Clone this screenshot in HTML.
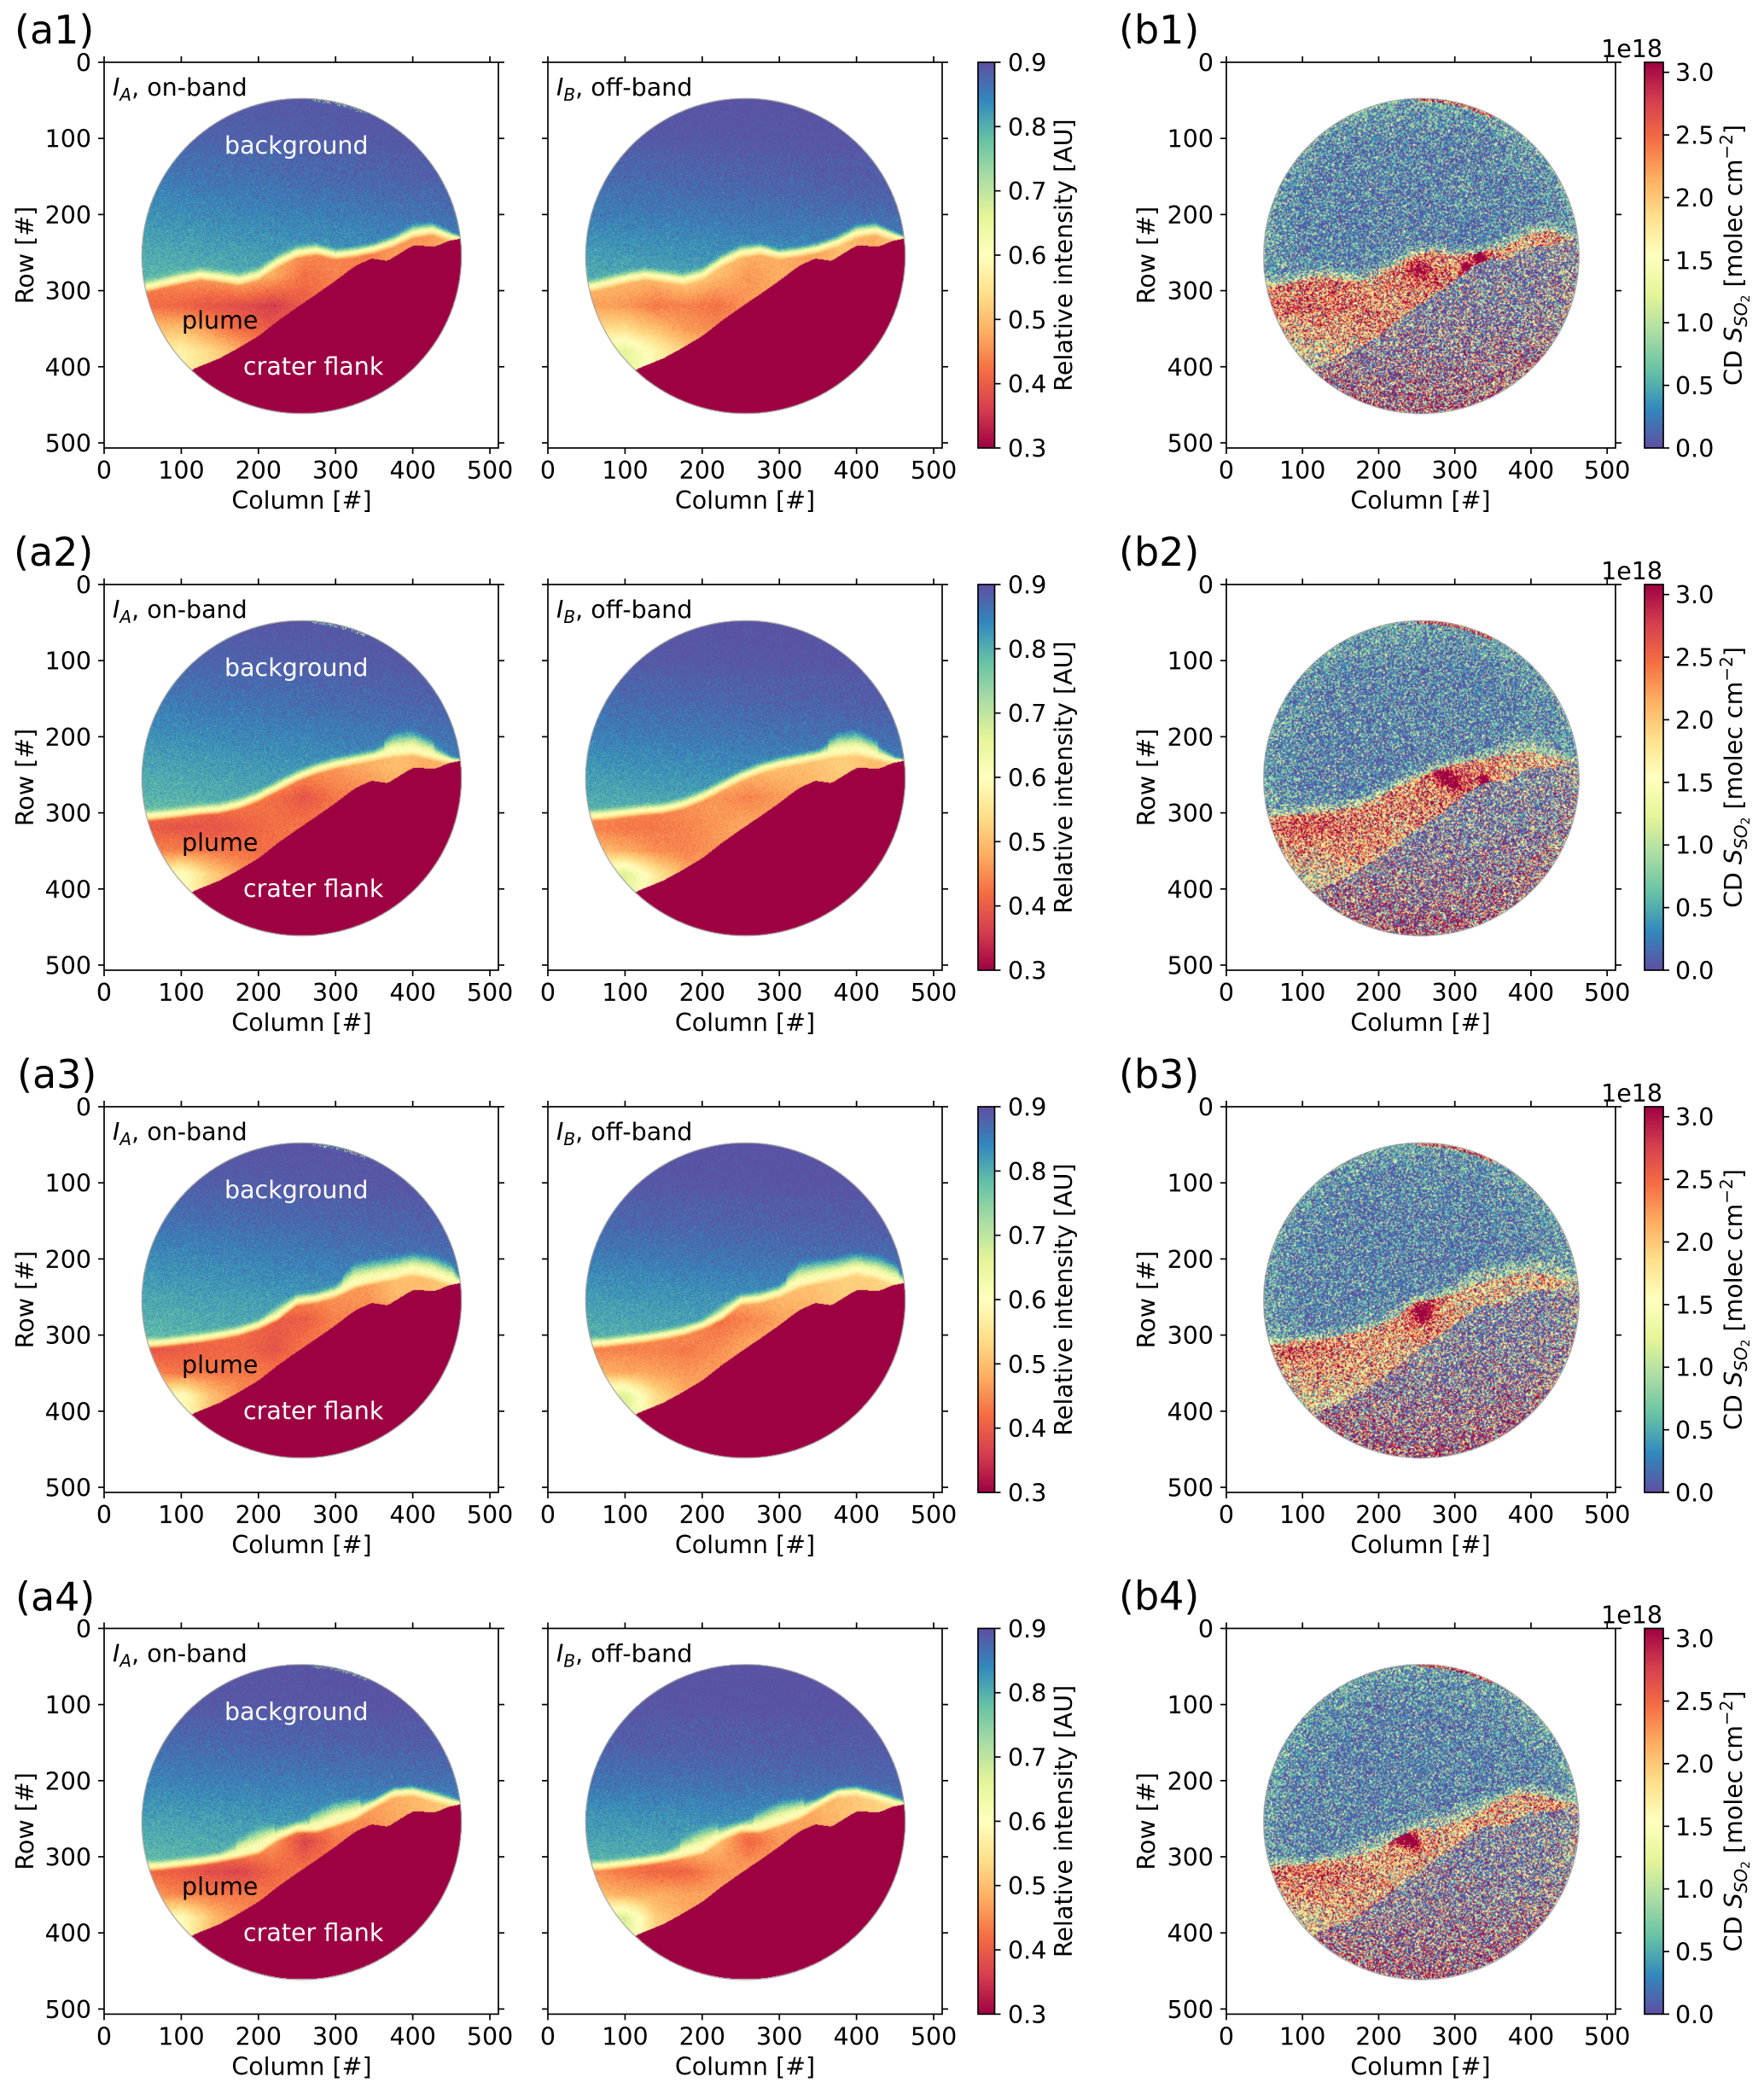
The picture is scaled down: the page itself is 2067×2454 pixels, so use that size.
<!DOCTYPE html>
<html lang="en">
<head>
<meta charset="utf-8">
<title>On-band, off-band intensity and SO2 column density images</title>
<style>
html,body{margin:0;padding:0;background:#fff}
#figure{position:relative;width:2067px;height:2454px;overflow:hidden;background:#fff;font-family:"DejaVu Sans","Liberation Sans",sans-serif}
#figure canvas{position:absolute;display:block}
#overlay{position:absolute;left:0;top:0}
#overlay text{font-family:"DejaVu Sans","Liberation Sans",sans-serif;fill:#000}
</style>
</head>
<body>
<div id="figure">
<svg id="overlay" width="2067" height="2454" viewBox="0 0 2067 2454" xmlns="http://www.w3.org/2000/svg">
<defs>
<linearGradient id="gradOn" x1="0" y1="1" x2="0" y2="0"></linearGradient>
<linearGradient id="gradCd" x1="0" y1="0" x2="0" y2="1"></linearGradient>
</defs>
<g id="marks"></g>

<g transform="translate(0,0)">
<text x="17" y="51" font-size="46">(a1)</text>
<text x="1311" y="51" font-size="46">(b1)</text>
<text x="132" y="112" font-size="28.5"><tspan font-style="italic">I</tspan><tspan font-style="italic" font-size="20" dy="6">A</tspan><tspan dy="-6">, on-band</tspan></text>
<text x="652" y="112" font-size="28.5"><tspan font-style="italic">I</tspan><tspan font-style="italic" font-size="20" dy="6">B</tspan><tspan dy="-6">, off-band</tspan></text>
<text x="263" y="180" font-size="28.5" style="fill:#fff">background</text>
<text x="213" y="385" font-size="28.5">plume</text>
<text x="285" y="439" font-size="28.5" style="fill:#fff">crater flank</text>
<text x="353.5" y="596" font-size="28.5" text-anchor="middle">Column [#]</text>
<text x="873" y="596" font-size="28.5" text-anchor="middle">Column [#]</text>
<text x="1664.5" y="596" font-size="28.5" text-anchor="middle">Column [#]</text>
<text transform="translate(39,299) rotate(-90)" font-size="28.5" text-anchor="middle">Row [#]</text>
<text transform="translate(1353,299) rotate(-90)" font-size="28.5" text-anchor="middle">Row [#]</text>
<text transform="translate(1256,299) rotate(-90)" font-size="28.5" text-anchor="middle">Relative intensity [AU]</text>
<text transform="translate(2041,299) rotate(-90)" font-size="28.5" text-anchor="middle">CD <tspan font-style="italic">S</tspan><tspan font-style="italic" font-size="20" dy="6">SO</tspan><tspan font-size="14" dy="3">2</tspan><tspan dy="-9"> [molec cm</tspan><tspan font-size="20" dy="-11">−2</tspan><tspan dy="11">]</tspan></text>
<text x="1948" y="67" font-size="28.5" text-anchor="end">1e18</text>
</g>

<g transform="translate(0,612)">
<text x="16" y="51" font-size="46">(a2)</text>
<text x="1311" y="51" font-size="46">(b2)</text>
<text x="132" y="112" font-size="28.5"><tspan font-style="italic">I</tspan><tspan font-style="italic" font-size="20" dy="6">A</tspan><tspan dy="-6">, on-band</tspan></text>
<text x="652" y="112" font-size="28.5"><tspan font-style="italic">I</tspan><tspan font-style="italic" font-size="20" dy="6">B</tspan><tspan dy="-6">, off-band</tspan></text>
<text x="263" y="180" font-size="28.5" style="fill:#fff">background</text>
<text x="213" y="385" font-size="28.5">plume</text>
<text x="285" y="439" font-size="28.5" style="fill:#fff">crater flank</text>
<text x="353.5" y="596" font-size="28.5" text-anchor="middle">Column [#]</text>
<text x="873" y="596" font-size="28.5" text-anchor="middle">Column [#]</text>
<text x="1664.5" y="596" font-size="28.5" text-anchor="middle">Column [#]</text>
<text transform="translate(39,299) rotate(-90)" font-size="28.5" text-anchor="middle">Row [#]</text>
<text transform="translate(1353,299) rotate(-90)" font-size="28.5" text-anchor="middle">Row [#]</text>
<text transform="translate(1256,299) rotate(-90)" font-size="28.5" text-anchor="middle">Relative intensity [AU]</text>
<text transform="translate(2041,299) rotate(-90)" font-size="28.5" text-anchor="middle">CD <tspan font-style="italic">S</tspan><tspan font-style="italic" font-size="20" dy="6">SO</tspan><tspan font-size="14" dy="3">2</tspan><tspan dy="-9"> [molec cm</tspan><tspan font-size="20" dy="-11">−2</tspan><tspan dy="11">]</tspan></text>
<text x="1948" y="67" font-size="28.5" text-anchor="end">1e18</text>
</g>

<g transform="translate(0,1224)">
<text x="20" y="51" font-size="46">(a3)</text>
<text x="1311" y="51" font-size="46">(b3)</text>
<text x="132" y="112" font-size="28.5"><tspan font-style="italic">I</tspan><tspan font-style="italic" font-size="20" dy="6">A</tspan><tspan dy="-6">, on-band</tspan></text>
<text x="652" y="112" font-size="28.5"><tspan font-style="italic">I</tspan><tspan font-style="italic" font-size="20" dy="6">B</tspan><tspan dy="-6">, off-band</tspan></text>
<text x="263" y="180" font-size="28.5" style="fill:#fff">background</text>
<text x="213" y="385" font-size="28.5">plume</text>
<text x="285" y="439" font-size="28.5" style="fill:#fff">crater flank</text>
<text x="353.5" y="596" font-size="28.5" text-anchor="middle">Column [#]</text>
<text x="873" y="596" font-size="28.5" text-anchor="middle">Column [#]</text>
<text x="1664.5" y="596" font-size="28.5" text-anchor="middle">Column [#]</text>
<text transform="translate(39,299) rotate(-90)" font-size="28.5" text-anchor="middle">Row [#]</text>
<text transform="translate(1353,299) rotate(-90)" font-size="28.5" text-anchor="middle">Row [#]</text>
<text transform="translate(1256,299) rotate(-90)" font-size="28.5" text-anchor="middle">Relative intensity [AU]</text>
<text transform="translate(2041,299) rotate(-90)" font-size="28.5" text-anchor="middle">CD <tspan font-style="italic">S</tspan><tspan font-style="italic" font-size="20" dy="6">SO</tspan><tspan font-size="14" dy="3">2</tspan><tspan dy="-9"> [molec cm</tspan><tspan font-size="20" dy="-11">−2</tspan><tspan dy="11">]</tspan></text>
<text x="1948" y="67" font-size="28.5" text-anchor="end">1e18</text>
</g>

<g transform="translate(0,1835.4)">
<text x="18" y="52" font-size="46">(a4)</text>
<text x="1311" y="51" font-size="46">(b4)</text>
<text x="132" y="112" font-size="28.5"><tspan font-style="italic">I</tspan><tspan font-style="italic" font-size="20" dy="6">A</tspan><tspan dy="-6">, on-band</tspan></text>
<text x="652" y="112" font-size="28.5"><tspan font-style="italic">I</tspan><tspan font-style="italic" font-size="20" dy="6">B</tspan><tspan dy="-6">, off-band</tspan></text>
<text x="263" y="180" font-size="28.5" style="fill:#fff">background</text>
<text x="213" y="385" font-size="28.5">plume</text>
<text x="285" y="439" font-size="28.5" style="fill:#fff">crater flank</text>
<text x="353.5" y="596" font-size="28.5" text-anchor="middle">Column [#]</text>
<text x="873" y="596" font-size="28.5" text-anchor="middle">Column [#]</text>
<text x="1664.5" y="596" font-size="28.5" text-anchor="middle">Column [#]</text>
<text transform="translate(39,299) rotate(-90)" font-size="28.5" text-anchor="middle">Row [#]</text>
<text transform="translate(1353,299) rotate(-90)" font-size="28.5" text-anchor="middle">Row [#]</text>
<text transform="translate(1256,299) rotate(-90)" font-size="28.5" text-anchor="middle">Relative intensity [AU]</text>
<text transform="translate(2041,299) rotate(-90)" font-size="28.5" text-anchor="middle">CD <tspan font-style="italic">S</tspan><tspan font-style="italic" font-size="20" dy="6">SO</tspan><tspan font-size="14" dy="3">2</tspan><tspan dy="-9"> [molec cm</tspan><tspan font-size="20" dy="-11">−2</tspan><tspan dy="11">]</tspan></text>
<text x="1948" y="67" font-size="28.5" text-anchor="end">1e18</text>
</g>
</svg>
</div>

<script>
// ---- axis tick values ----
const xTickValues = [0, 100, 200, 300, 400, 500];
const yTickValues = [0, 100, 200, 300, 400, 500];
const intensityTicks = [0.3, 0.4, 0.5, 0.6, 0.7, 0.8, 0.9];
const columnDensityTicks = [0.0, 0.5, 1.0, 1.5, 2.0, 2.5, 3.0];

// ---- colour map (Spectral) ----
const spectralStops = ['#9e0142','#d53e4f','#f46d43','#fdae61','#fee08b','#ffffbf','#e6f598','#abdda4','#66c2a5','#3288bd','#5e4fa2'];

// ---- image structure (column → row) ----
const profileColumns = [50,75,100,125,150,175,200,225,250,275,300,325,350,375,400,425,450,465];
const ridgeRow1 = [298,292,286,281,284,288,281,264,252,248,254,251,246,238,226,222,230,233];
const ridgeRow2 = [306,304,301,298,296,290,280,267,254,244,237,232,227,222,220,226,232,233];
const ridgeRow3 = [313,311,308,305,301,296,288,276,256,253,246,234,228,223,217,222,231,233];
const ridgeRow4 = [315,313,310,307,303,298,292,275,264,264,256,247,232,218,216,223,230,232];
const haloRow1 = [18,18,18,18,18,18,18,18,18,16,14,14,14,16,20,18,12,6];
const haloRow2 = [16,16,16,16,16,16,16,16,16,16,16,16,16,32,34,26,10,6];
const haloRow3 = [16,14,14,14,14,14,14,24,16,16,18,34,32,30,30,32,30,12];
const haloRow4 = [16,14,14,14,14,26,36,22,16,28,34,28,14,14,14,16,14,8];
const flankColumns = [100,116,150,175,200,225,250,275,300,325,346,368,385,400,430,446,465];
const flankEdgeRows = [415,403,389,375,360,340,322,305,287,268,258,261,250,241,242,235,231];

// ---- sky brightness at the left / right of the aperture, by row ----
const skySampleRows = [50,100,150,200,250,300];
const skyLeftOn1  = [0.885,0.875,0.855,0.83,0.805,0.785];
const skyRightOn1 = [0.895,0.893,0.885,0.865,0.84,0.82];
const skyLeftOff1  = [0.895,0.888,0.87,0.85,0.82,0.795];
const skyRightOff1 = [0.897,0.895,0.89,0.87,0.845,0.82];
const skyLeftOn2  = [0.888,0.875,0.855,0.83,0.805,0.785];
const skyRightOn2 = [0.895,0.892,0.882,0.862,0.84,0.82];
const skyLeftOff2  = [0.895,0.888,0.87,0.848,0.82,0.795];
const skyRightOff2 = [0.897,0.895,0.888,0.868,0.845,0.82];
const skyLeftOn3  = [0.892,0.882,0.862,0.835,0.81,0.79];
const skyRightOn3 = [0.897,0.895,0.885,0.865,0.84,0.82];
const skyLeftOff3  = [0.897,0.89,0.875,0.85,0.82,0.80];
const skyRightOff3 = [0.897,0.897,0.89,0.87,0.845,0.82];
const skyLeftOn4  = [0.895,0.888,0.87,0.845,0.815,0.79];
const skyRightOn4 = [0.897,0.897,0.888,0.865,0.835,0.82];
const skyLeftOff4  = [0.897,0.893,0.885,0.86,0.825,0.80];
const skyRightOff4 = [0.897,0.897,0.892,0.875,0.845,0.82];

// ---- plume values on a coarse grid ----
const plumeColumns = [60,100,140,180,220,260,300,340,380,420,460];
const plumeRows = [240,280,320,350,380,410];
const plumeOn1 = [
 [.50,.50,.50,.50,.50,.46,.44,.43,.46,.46,.50],
 [.44,.46,.47,.50,.48,.42,.44,.44,.48,.48,.50],
 [.42,.41,.39,.38,.36,.40,.44,.44,.48,.48,.50],
 [.50,.50,.45,.41,.40,.44,.44,.44,.48,.48,.50],
 [.55,.58,.53,.48,.44,.44,.44,.44,.48,.48,.50],
 [.55,.57,.54,.50,.46,.44,.44,.44,.48,.48,.50]];
const plumeOff1 = [
 [.52,.52,.52,.52,.52,.50,.48,.46,.50,.48,.52],
 [.50,.50,.50,.53,.50,.46,.48,.48,.50,.50,.52],
 [.47,.46,.43,.44,.42,.46,.48,.48,.50,.50,.52],
 [.54,.54,.50,.46,.45,.46,.48,.48,.50,.50,.52],
 [.62,.66,.58,.52,.48,.46,.48,.48,.50,.50,.52],
 [.60,.66,.58,.52,.48,.46,.48,.48,.50,.50,.52]];
const plumeOn2 = [
 [.50,.50,.50,.50,.50,.46,.46,.48,.50,.48,.50],
 [.44,.44,.42,.44,.42,.39,.43,.44,.47,.47,.50],
 [.40,.39,.39,.40,.42,.43,.44,.45,.47,.47,.50],
 [.44,.44,.43,.42,.42,.43,.44,.45,.47,.47,.50],
 [.56,.61,.52,.46,.44,.44,.44,.45,.47,.47,.50],
 [.56,.61,.52,.46,.44,.44,.44,.45,.47,.47,.50]];
const plumeOff2 = [
 [.52,.52,.52,.52,.52,.50,.50,.50,.52,.50,.52],
 [.46,.45,.44,.46,.46,.44,.46,.48,.50,.50,.52],
 [.44,.43,.43,.44,.46,.48,.48,.50,.50,.50,.52],
 [.50,.48,.45,.44,.46,.48,.48,.50,.50,.50,.52],
 [.64,.67,.56,.48,.48,.48,.48,.50,.50,.50,.52],
 [.64,.67,.56,.48,.48,.48,.48,.50,.50,.50,.52]];
const plumeOn3 = [
 [.50,.50,.50,.50,.50,.46,.46,.46,.50,.50,.52],
 [.42,.42,.42,.42,.40,.40,.44,.44,.47,.47,.50],
 [.39,.40,.41,.41,.39,.43,.45,.45,.47,.47,.50],
 [.44,.43,.43,.43,.43,.43,.45,.45,.47,.47,.50],
 [.56,.61,.50,.45,.44,.44,.45,.45,.47,.47,.50],
 [.56,.61,.50,.45,.44,.44,.45,.45,.47,.47,.50]];
const plumeOff3 = [
 [.52,.52,.52,.52,.52,.50,.50,.50,.52,.52,.54],
 [.46,.46,.46,.46,.42,.44,.47,.48,.50,.50,.52],
 [.44,.44,.44,.43,.45,.48,.48,.50,.50,.50,.52],
 [.49,.48,.47,.46,.47,.48,.48,.50,.50,.50,.52],
 [.66,.67,.54,.48,.47,.48,.48,.50,.50,.50,.52],
 [.66,.67,.54,.48,.47,.48,.48,.50,.50,.50,.52]];
const plumeOn4 = [
 [.52,.52,.52,.52,.52,.48,.46,.46,.48,.50,.52],
 [.44,.44,.44,.48,.46,.37,.43,.44,.47,.47,.50],
 [.41,.40,.38,.37,.41,.43,.44,.45,.47,.47,.50],
 [.46,.44,.43,.43,.43,.43,.44,.45,.47,.47,.50],
 [.56,.60,.50,.45,.44,.44,.44,.45,.47,.47,.50],
 [.56,.60,.50,.45,.44,.44,.44,.45,.47,.47,.50]];
const plumeOff4 = [
 [.54,.54,.54,.54,.54,.50,.48,.48,.50,.52,.54],
 [.46,.46,.48,.53,.50,.41,.46,.46,.49,.49,.52],
 [.45,.43,.41,.41,.45,.47,.47,.48,.50,.50,.52],
 [.50,.48,.48,.47,.47,.47,.47,.48,.50,.50,.52],
 [.64,.67,.52,.48,.47,.47,.47,.48,.50,.50,.52],
 [.64,.67,.52,.48,.47,.47,.47,.48,.50,.50,.52]];

// ---- column density (1e18 molec/cm2): mean plume values on the same grid ----
const cdPlume1 = [
 [2.0,2.0,2.0,2.0,2.0,2.0,2.2,2.3,1.8,2.2,2.4],
 [2.2,2.4,2.4,2.0,2.2,2.5,2.4,2.4,1.8,2.2,2.4],
 [2.4,2.6,2.4,2.4,2.2,2.2,2.2,2.2,2.2,2.2,2.2],
 [1.6,1.9,2.1,2.2,2.1,2.0,2.0,2.0,2.0,2.0,2.0],
 [1.2,1.4,1.6,1.8,1.9,1.9,1.9,1.9,1.9,1.9,1.9],
 [1.1,1.2,1.4,1.6,1.8,1.8,1.8,1.8,1.8,1.8,1.8]];
const cdPlume2 = [
 [2.2,2.2,2.2,2.2,2.2,2.3,2.7,2.3,1.8,1.8,2.0],
 [2.4,2.4,2.4,2.3,2.2,2.2,2.2,2.2,1.8,1.8,2.0],
 [2.6,2.7,2.5,2.3,2.1,2.1,2.1,2.1,2.0,2.0,2.0],
 [1.7,2.0,2.1,2.1,2.0,2.0,2.0,2.0,2.0,2.0,2.0],
 [1.2,1.3,1.6,1.8,1.9,1.9,1.9,1.9,1.9,1.9,1.9],
 [1.0,1.1,1.4,1.7,1.8,1.8,1.8,1.8,1.8,1.8,1.8]];
const cdPlume3 = [
 [2.2,2.2,2.2,2.2,2.2,2.4,1.8,1.6,1.6,1.8,2.0],
 [2.2,2.2,2.2,2.0,2.2,2.5,1.9,1.8,1.8,1.8,2.0],
 [2.5,2.6,2.3,2.1,1.9,1.9,1.9,1.9,1.9,1.9,2.0],
 [1.7,2.0,2.0,1.9,1.8,1.8,1.8,1.8,1.8,1.8,1.8],
 [1.3,1.4,1.6,1.7,1.8,1.8,1.8,1.8,1.8,1.8,1.8],
 [1.2,1.2,1.4,1.6,1.8,1.8,1.8,1.8,1.8,1.8,1.8]];
const cdPlume4 = [
 [2.2,2.2,2.2,2.2,2.2,2.2,2.0,1.8,1.8,2.3,2.2],
 [2.2,2.2,2.0,1.3,2.4,2.0,1.8,2.4,2.0,2.2,2.2],
 [2.4,2.4,2.4,2.2,1.8,1.8,1.8,2.0,2.0,2.0,2.0],
 [1.8,2.1,2.2,2.0,1.8,1.8,1.8,1.8,1.8,1.8,1.8],
 [1.3,1.5,1.7,1.8,1.8,1.8,1.8,1.8,1.8,1.8,1.8],
 [1.1,1.2,1.4,1.6,1.8,1.8,1.8,1.8,1.8,1.8,1.8]];

// saturated patches seen in the column-density images
const hotColumns1 = [253,334,315];
const hotRows1 = [273,258,269];
const hotSizes1 = [15,8,6];
const hotGains1 = [1.0,3.0,2.5];
const hotColumns2 = [285,300,339,320];
const hotRows2 = [250,262,256,275];
const hotSizes2 = [12,12,7,6];
const hotGains2 = [1.2,1.2,2.5,1.0];
const hotColumns3 = [257,270,345];
const hotRows3 = [272,253,272];
const hotSizes3 = [14,8,6];
const hotGains3 = [1.5,1.0,0.8];
const hotColumns4 = [215,235,248,345];
const hotRows4 = [270,275,285,268];
const hotSizes4 = [10,12,9,5];
const hotGains4 = [1.8,2.0,1.6,2.5];

// shared column-density levels: crater flank and background, by row
const flankLevelRows = [240,300,350,400,460];
const flankMeanLevels = [0.25,0.30,0.45,0.75,1.10];
const flankSpreadLevels = [1.3,1.4,1.6,1.9,2.2];
const cdSkyMeanLevels = [0.30,0.25,0.25,0.25,0.25,0.30];

// ---- layout ----
const NS = 'http://www.w3.org/2000/svg';
const rowTops = [73, 685, 1297, 1908.4];
const axesHeight = 452;
const rowScale = 0.892;
const apertureColumn = 256;
const apertureRow = 254.5;
const apertureRadius = 207;
const columnExtent = 511;
const rowExtent = axesHeight / rowScale;
const cdMaximum = 3.08;

const figure = document.getElementById('figure');
const overlay = document.getElementById('overlay');
const marks = document.getElementById('marks');

function xAxis(left, scale, v) { return left + v * scale; }
function yAxis(top, v) { return top + v * rowScale; }

function hexRgb(h) { return [parseInt(h.slice(1,3),16), parseInt(h.slice(3,5),16), parseInt(h.slice(5,7),16)]; }
const lut = (function () {
  const rgb = spectralStops.map(hexRgb);
  const out = new Uint8Array(256 * 3);
  for (let i = 0; i < 256; i++) {
    const f = i / 255 * (rgb.length - 1);
    const k = Math.min(rgb.length - 2, Math.floor(f));
    const t = f - k;
    for (let c = 0; c < 3; c++) out[i * 3 + c] = Math.round(rgb[k][c] + (rgb[k + 1][c] - rgb[k][c]) * t);
  }
  return out;
})();

function interp(xs, ys, x) {
  if (x <= xs[0]) return ys[0];
  const n = xs.length;
  if (x >= xs[n - 1]) return ys[n - 1];
  let i = 0;
  while (x > xs[i + 1]) i++;
  const t = (x - xs[i]) / (xs[i + 1] - xs[i]);
  return ys[i] + (ys[i + 1] - ys[i]) * t;
}
function clamp01(v) { return v < 0 ? 0 : v > 1 ? 1 : v; }
function smooth(t) { return t * t * (3 - 2 * t); }

// Fine-grain sensor texture only: seeded and deterministic; it does not carry any chart values.
function grainSource(seed) {
  let s = seed >>> 0;
  function u() {
    s = (s + 0x6D2B79F5) >>> 0;
    let t = s;
    t = Math.imul(t ^ (t >>> 15), t | 1);
    t ^= t + Math.imul(t ^ (t >>> 7), t | 61);
    return ((t ^ (t >>> 14)) >>> 0) / 4294967296;
  }
  return function () { return Math.sqrt(-2 * Math.log(u() + 1e-9)) * Math.cos(6.2831853 * u()); };
}

function softened(arr) {
  const out = new Float32Array(arr.length);
  for (let i = 0; i < arr.length; i++) {
    let sum = 0, n = 0;
    for (let k = -3; k <= 3; k++) {
      if (arr[i + k] !== undefined) { sum += arr[i + k]; n++; }
    }
    out[i] = sum / n;
  }
  return out;
}

function paintImage(canvas, cfg) {
  const cell = cfg.cell;
  const w = Math.ceil(columnExtent / cell), h = Math.ceil(rowExtent / cell);
  canvas.width = w;
  canvas.height = h;
  const ctx = canvas.getContext('2d');
  const img = ctx.createImageData(w, h);
  const d = img.data;
  const gauss = grainSource(cfg.seed);

  const ridgeAt = new Float32Array(w), haloAt = new Float32Array(w);
  let flankAt = new Float32Array(w);
  for (let i = 0; i < w; i++) {
    const col = (i + 0.5) * cell;
    ridgeAt[i] = interp(profileColumns, cfg.ridge, col);
    haloAt[i] = interp(profileColumns, cfg.halo, col);
    flankAt[i] = interp(flankColumns, flankEdgeRows, col);
  }
  flankAt = softened(flankAt);
  const gridCols = [];
  for (let i = 0; i < w; i++) {
    const col = (i + 0.5) * cell;
    gridCols.push(plumeRows.map(function (r, k) { return interp(plumeColumns, cfg.grid[k], col); }));
  }

  for (let j = 0; j < h; j++) {
    const row = (j + 0.5) * cell;
    let skyL = 0, skyR = 0, cdSky = 0;
    if (cfg.kind === 'cd') {
      cdSky = interp(skySampleRows, cdSkyMeanLevels, row);
    } else {
      skyL = interp(skySampleRows, cfg.skyLeft, row);
      skyR = interp(skySampleRows, cfg.skyRight, row);
    }
    const flankMean = interp(flankLevelRows, flankMeanLevels, row);
    const flankSpread = interp(flankLevelRows, flankSpreadLevels, row);
    for (let i = 0; i < w; i++) {
      const col = (i + 0.5) * cell;
      const dc = col - apertureColumn, dr = row - apertureRow;
      const rad = Math.sqrt(dc * dc + dr * dr);
      if (rad > apertureRadius) continue;
      const rim = Math.pow(rad / apertureRadius, 8);
      const fr = flankAt[i], rd = ridgeAt[i], ha = haloAt[i];
      let t;
      if (cfg.kind === 'cd') {
        let mean, spread;
        if (row >= fr) {
          mean = flankMean + 0.7 * rim;
          spread = flankSpread;
        } else if (row >= rd) {
          const w0 = clamp01((row - rd) / 8);
          mean = 2.0 + (interp(plumeRows, gridCols[i], row) - 2.0) * w0;
          spread = 0.95;
          for (let k = 0; k < cfg.hotColumns.length; k++) {
            const a = (col - cfg.hotColumns[k]) / cfg.hotSizes[k], b = (row - cfg.hotRows[k]) / cfg.hotSizes[k];
            const g = Math.exp(-(a * a + b * b));
            mean += cfg.hotGains[k] * g;
            spread *= 1 - 0.35 * g;
          }
        } else {
          const dist = rd - row;
          const tt = smooth(clamp01(1 - dist / ha));
          mean = cdSky + 0.25 * rim + (0.95 - cdSky) * tt;
          spread = 0.52 + 0.28 * tt;
          // thin saturated arc at the upper right of the aperture
          if (rad > apertureRadius - 4 && col > 250 && col < 350 && row < 90) { mean = 2.6; spread = 1.0; }
        }
        const v = mean + spread * gauss();
        t = 1 - clamp01(v / cdMaximum);
      } else {
        let v, sigma;
        if (row >= fr) {
          v = 0.29; sigma = 0;
        } else if (row >= rd) {
          const w0 = smooth(clamp01((row - rd) / 7));
          v = 0.57 + (interp(plumeRows, gridCols[i], row) - 0.57) * w0;
          sigma = 0.011;
        } else {
          const dist = rd - row;
          const f = clamp01((col - 60) / 390);
          const sky = skyL + (skyR - skyL) * f;
          let tt = smooth(clamp01(1 - dist / ha));
          if (ha <= 24) tt = Math.pow(tt, 2);
          v = sky + (0.59 - sky) * tt;
          sigma = row < 120 ? 0.009 : 0.018;
          if (cfg.kind === 'on' && rad > apertureRadius - 4 && col > 270 && col < 340 && row < 90) sigma = 0.16;
        }
        v += sigma * gauss();
        t = clamp01((v - 0.3) / 0.6);
      }
      const ci = Math.round(t * 255) * 3;
      const p = (j * w + i) * 4;
      d[p] = lut[ci]; d[p + 1] = lut[ci + 1]; d[p + 2] = lut[ci + 2]; d[p + 3] = 255;
    }
  }
  ctx.putImageData(img, 0, 0);
}

function svgEl(tag, parent) {
  const el = document.createElementNS(NS, tag);
  parent.appendChild(el);
  return el;
}
function line(parent, x1, y1, x2, y2, width) {
  const el = svgEl('line', parent);
  el.setAttribute('x1', x1);
  el.setAttribute('y1', y1);
  el.setAttribute('x2', x2);
  el.setAttribute('y2', y2);
  el.setAttribute('stroke', '#000');
  el.setAttribute('stroke-width', width);
  return el;
}
function tickText(parent, x, y, anchor, str) {
  const el = svgEl('text', parent);
  el.setAttribute('x', x);
  el.setAttribute('y', y);
  el.setAttribute('text-anchor', anchor);
  el.setAttribute('font-size', '28.5');
  el.textContent = str;
  return el;
}

function drawAxes(left, top, width, scale, showYLabels, yLabelRight) {
  const group = svgEl('g', marks);
  
  
  const frame = svgEl('rect', group);
  frame.setAttribute('x', left);
  frame.setAttribute('y', top);
  frame.setAttribute('width', width);
  frame.setAttribute('height', axesHeight);
  frame.setAttribute('fill', 'none');
  frame.setAttribute('stroke', '#000');
  frame.setAttribute('stroke-width', '1.7');
  
  
  xTickValues.forEach(function (v) {
    const x = xAxis(left, scale, v);
    const bt = line(group, x, top + axesHeight, x, top + axesHeight + 7, 1.7);
    
    
    const tt = line(group, x, top, x, top - 7, 1.7);
    
    
    const label = tickText(group, x, top + axesHeight + 36, 'middle', String(v));
    
    
  });
  yTickValues.forEach(function (v) {
    const y = yAxis(top, v);
    const lt = line(group, left - 7, y, left, y, 1.7);
    
    
    const rt = line(group, left + width, y, left + width + 7, y, 1.7);
    
    
    if (showYLabels) {
      const label = tickText(group, yLabelRight, y + 10.5, 'end', String(v));
      
      
    }
  });
}

function drawAperture(left, top, scale) {
  const rim = svgEl('ellipse', marks);
  rim.setAttribute('cx', xAxis(left, scale, apertureColumn));
  rim.setAttribute('cy', yAxis(top, apertureRow));
  rim.setAttribute('rx', apertureRadius * scale);
  rim.setAttribute('ry', apertureRadius * rowScale);
  rim.setAttribute('fill', 'none');
  rim.setAttribute('stroke', '#9a9a9a');
  rim.setAttribute('stroke-width', '1.4');
  rim.setAttribute('stroke-opacity', '0.75');
  
  
}

function drawColorbar(left, top, width, gradId, ticks, tickY, labelX, fmt, name) {
  const group = svgEl('g', marks);
  
  
  const bar = svgEl('rect', group);
  bar.setAttribute('x', left);
  bar.setAttribute('y', top);
  bar.setAttribute('width', width);
  bar.setAttribute('height', axesHeight);
  bar.setAttribute('fill', 'url(#' + gradId + ')');
  bar.setAttribute('stroke', '#000');
  bar.setAttribute('stroke-width', '1.7');
  
  
  ticks.forEach(function (v) {
    const y = tickY(v);
    const tk = line(group, left + width, y, left + width + 7, y, 1.7);
    
    
    const label = tickText(group, labelX, y + 10.5, 'start', fmt(v));
    
    
  });
}

function fillGradient(id) {
  const g = document.getElementById(id);
  spectralStops.forEach(function (c, i) {
    const s = document.createElementNS(NS, 'stop');
    s.setAttribute('offset', (i / (spectralStops.length - 1)));
    s.setAttribute('stop-color', c);
    g.appendChild(s);
  });
}
fillGradient('gradOn');
fillGradient('gradCd');

const imageRows = [
  { ridge: ridgeRow1, halo: haloRow1, on: plumeOn1, off: plumeOff1, cd: cdPlume1, sLOn: skyLeftOn1, sROn: skyRightOn1, sLOff: skyLeftOff1, sROff: skyRightOff1, hc: hotColumns1, hr: hotRows1, hs: hotSizes1, hg: hotGains1 },
  { ridge: ridgeRow2, halo: haloRow2, on: plumeOn2, off: plumeOff2, cd: cdPlume2, sLOn: skyLeftOn2, sROn: skyRightOn2, sLOff: skyLeftOff2, sROff: skyRightOff2, hc: hotColumns2, hr: hotRows2, hs: hotSizes2, hg: hotGains2 },
  { ridge: ridgeRow3, halo: haloRow3, on: plumeOn3, off: plumeOff3, cd: cdPlume3, sLOn: skyLeftOn3, sROn: skyRightOn3, sLOff: skyLeftOff3, sROff: skyRightOff3, hc: hotColumns3, hr: hotRows3, hs: hotSizes3, hg: hotGains3 },
  { ridge: ridgeRow4, halo: haloRow4, on: plumeOn4, off: plumeOff4, cd: cdPlume4, sLOn: skyLeftOn4, sROn: skyRightOn4, sLOff: skyLeftOff4, sROff: skyRightOff4, hc: hotColumns4, hr: hotRows4, hs: hotSizes4, hg: hotGains4 }
];

const leftOn = 122, leftOff = 642, leftCd = 1437;
const widthIntensity = 462, widthCd = 456;
const scaleIntensity = widthIntensity / columnExtent, scaleCd = widthCd / columnExtent;

function placeCanvas(left, top, width, name) {
  const c = document.createElement('canvas');
  c.style.left = left + 'px';
  c.style.top = top + 'px';
  c.style.width = width + 'px';
  c.style.height = axesHeight + 'px';
  
  
  figure.insertBefore(c, overlay);
  return c;
}

imageRows.forEach(function (r, idx) {
  const top = rowTops[idx];
  paintImage(placeCanvas(leftOn, top, widthIntensity, 'on-band-image'),
    { kind: 'on', cell: 1, seed: 1000 + idx, ridge: r.ridge, halo: r.halo, grid: r.on, skyLeft: r.sLOn, skyRight: r.sROn });
  paintImage(placeCanvas(leftOff, top, widthIntensity, 'off-band-image'),
    { kind: 'off', cell: 1, seed: 2000 + idx, ridge: r.ridge, halo: r.halo, grid: r.off, skyLeft: r.sLOff, skyRight: r.sROff });
  paintImage(placeCanvas(leftCd, top, widthCd, 'column-density-image'),
    { kind: 'cd', cell: 1.5, seed: 3000 + idx, ridge: r.ridge, halo: r.halo, grid: r.cd, hotColumns: r.hc, hotRows: r.hr, hotSizes: r.hs, hotGains: r.hg });

  drawAperture(leftOn, top, scaleIntensity);
  drawAperture(leftOff, top, scaleIntensity);
  drawAperture(leftCd, top, scaleCd);
  drawAxes(leftOn, top, widthIntensity, scaleIntensity, true, 107);
  drawAxes(leftOff, top, widthIntensity, scaleIntensity, false, 0);
  drawAxes(leftCd, top, widthCd, scaleCd, true, 1422);
  drawColorbar(1146, top, 19.5, 'gradOn', intensityTicks,
    function (v) { return top + axesHeight - (v - 0.3) / 0.6 * axesHeight; }, 1181,
    function (v) { return v.toFixed(1); }, 'intensity-colorbar');
  drawColorbar(1927, top, 22, 'gradCd', columnDensityTicks,
    function (v) { return top + axesHeight - v / cdMaximum * axesHeight; }, 1963,
    function (v) { return v.toFixed(1); }, 'column-density-colorbar');
});
</script>
</body>
</html>
